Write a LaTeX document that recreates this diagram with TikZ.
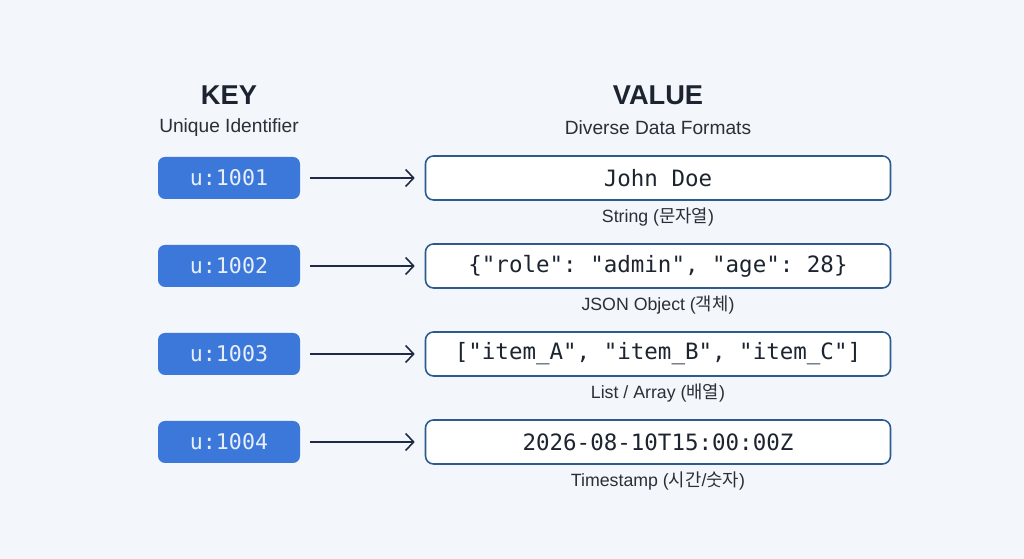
\documentclass[tikz,border=0pt]{standalone}
\usepackage{fontspec}
\setmainfont{Liberation Sans}
\setsansfont{Liberation Sans}
\setmonofont{DejaVu Sans Mono}
\newfontfamily\krfont{Noto Sans CJK KR}
\usetikzlibrary{arrows.meta}

\definecolor{bgcol}{HTML}{F3F6FA}
\definecolor{keyblue}{HTML}{3B78D9}
\definecolor{valline}{HTML}{2C5C8F}
\definecolor{arrowcol}{HTML}{1F2B45}
\definecolor{inkcol}{HTML}{1C2430}
\definecolor{capcol}{HTML}{2A2F38}

\tikzset{
  keybox/.style={fill=keyblue, rounded corners=1.4mm, minimum width=2.84cm,
    minimum height=0.84cm, inner sep=0pt, text=white!88!keyblue,
    font=\ttfamily\fontsize{12.3}{14}\selectfont},
  valbox/.style={draw=valline, line width=0.9pt, fill=white, rounded corners=1.6mm,
    minimum width=9.3cm, minimum height=0.88cm, inner sep=0pt},
  valtext/.style={text=inkcol, font=\ttfamily\fontsize{12.8}{15}\selectfont},
  caption/.style={text=capcol, font=\fontsize{10.1}{12}\selectfont},
  heading/.style={text=inkcol, font=\bfseries\fontsize{15.5}{18}\selectfont},
  subhead/.style={text=capcol, font=\fontsize{10.9}{13}\selectfont},
  maparrow/.style={draw=arrowcol, line width=0.9pt,
    -{Straight Barb[length=1.6mm,width=3.4mm,line width=0.9pt]}}
}

\begin{document}
\begin{tikzpicture}
 \fill[bgcol] (0,0) rectangle (20.48,11.18);
 \useasboundingbox (0,0) rectangle (20.48,11.18);

 % column headings
 \node[heading] (keyhead) at (4.58,9.28) {KEY};
 \node[subhead] (keysub) at (4.58,8.62) {Unique Identifier};
 \node[heading] (valhead) at (13.16,9.28) {VALUE};
 \node[subhead] (valsub) at (13.16,8.62) {Diverse Data Formats};

 % keys and arrows
 \foreach \i in {1,2,3,4}
 {
  \pgfmathsetmacro{\y}{7.62-1.76*(\i-1)};
  \node[keybox] (k\i) at (4.58,\y) {u:100\i};
  \node[valbox] (v\i) at (13.16,\y) {};
  \draw[maparrow] ([xshift=0.2cm]k\i.east) -- ([xshift=-0.2cm]v\i.west);
 }

 % values
 \node[valtext] (t1) at (v1) {John Doe};
 \node[valtext] (t2) at (v2) {\{"role": "admin", "age": 28\}};
 \node[valtext] (t3) at (v3) {["item\_A", "item\_B", "item\_C"]};
 \node[valtext] (t4) at (v4) {2026-08-10T15:00:00Z};

 % captions
 \node[caption] (c1) at ([yshift=-0.78cm]v1.center) {String ({\krfont 문자열})};
 \node[caption] (c2) at ([yshift=-0.78cm]v2.center) {JSON Object ({\krfont 객체})};
 \node[caption] (c3) at ([yshift=-0.78cm]v3.center) {List / Array ({\krfont 배열})};
 \node[caption] (c4) at ([yshift=-0.78cm]v4.center) {Timestamp ({\krfont 시간}/{\krfont 숫자})};
\end{tikzpicture}
\end{document}
